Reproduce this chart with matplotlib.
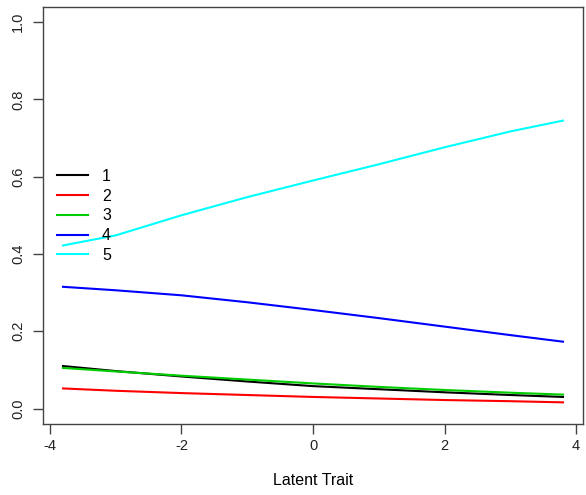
import matplotlib
matplotlib.use("Agg")
import matplotlib.pyplot as plt

plt.rcParams['font.family'] = ['Liberation Sans', 'DejaVu Sans']

# latent trait grid and category probabilities
theta = [-3.8, -3, -2, -1, 0, 1, 2, 3, 3.8]
cat1 = [0.110, 0.097, 0.083, 0.070, 0.058, 0.050, 0.042, 0.035, 0.030]
cat2 = [0.052, 0.046, 0.040, 0.035, 0.030, 0.026, 0.022, 0.019, 0.016]
cat3 = [0.105, 0.096, 0.085, 0.075, 0.065, 0.056, 0.048, 0.041, 0.036]
cat4 = [0.315, 0.306, 0.293, 0.275, 0.255, 0.234, 0.212, 0.190, 0.173]
cat5 = [0.422, 0.448, 0.500, 0.547, 0.590, 0.632, 0.676, 0.717, 0.745]
labels = ["1", "2", "3", "4", "5"]
colors = ["black", "#ff0000", "#00cd00", "#0000ff", "#00ffff"]

fig = plt.figure(figsize=(5.86, 4.95), dpi=100)
ax = fig.add_axes([43 / 586, 71 / 495, 540 / 586, 417.4 / 495])

for ys, lab, col in zip([cat1, cat2, cat3, cat4, cat5], labels, colors):
    ax.plot(theta, ys, color=col, lw=1.5, label=lab)

ax.set_xlim(-4.104, 4.104)
ax.set_ylim(-0.04, 1.04)
ax.set_xticks([-4, -2, 0, 2, 4])
ax.set_xticklabels(["-4", "-2", "0", "2", "4"])
ax.set_yticks([0, 0.2, 0.4, 0.6, 0.8, 1.0])
ax.set_yticklabels(["0.0", "0.2", "0.4", "0.6", "0.8", "1.0"], rotation=90, va="center")

for s in ax.spines.values():
    s.set_color("#444444")
    s.set_linewidth(1)
ax.tick_params(direction="out", length=7, width=1, color="#444444",
               labelcolor="#222222", labelsize=10.5)
ax.tick_params(axis="x", pad=4)
ax.tick_params(axis="y", pad=6)

ax.set_xlabel("Latent Trait", fontsize=11.5, labelpad=14)

ax.legend(loc="center left", bbox_to_anchor=(0, 0.4985), frameon=False,
          fontsize=11.5, handlelength=1.9, handletextpad=0.9, labelspacing=0.3)

fig.savefig("out.png", dpi=100)
